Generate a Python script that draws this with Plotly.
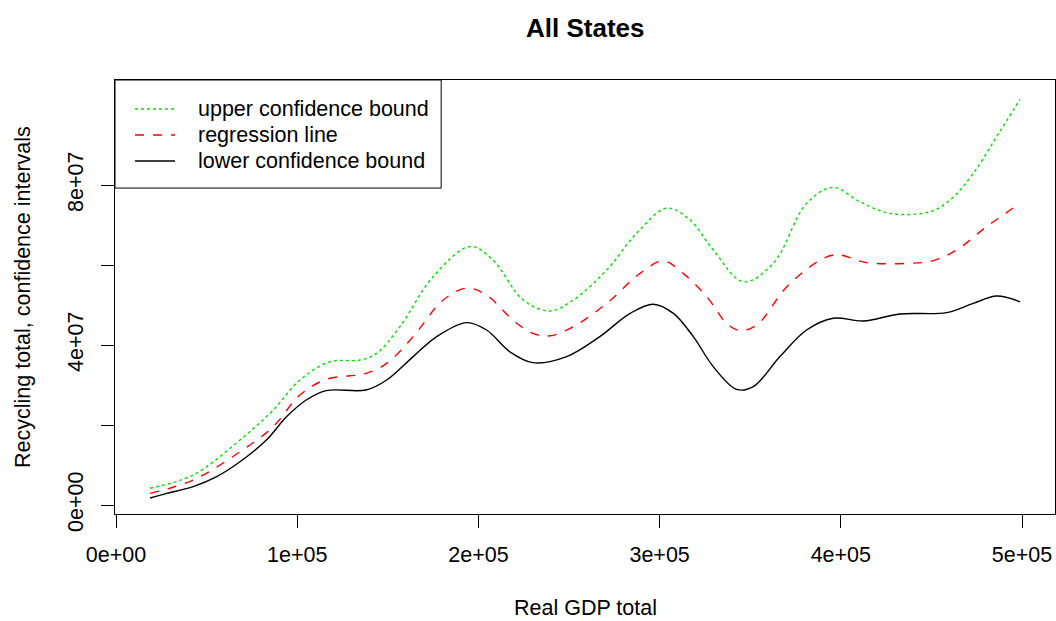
import plotly.graph_objects as go

# values (x in GDP units, y in recycling units)
upper_x = [18800, 42600, 68400, 86800, 101500, 118000, 134700, 143800, 156700, 175000,
           195400, 208000, 224700, 239500, 252400, 270800, 287300, 303900, 316800, 329600,
           346200, 362700, 381100, 395800, 410600, 427200, 449200, 460300, 473100, 486000, 498900]
upper_y = [4.2e6, 7.5e6, 16.25e6, 23.75e6, 31.25e6, 35.8e6, 36.25e6, 37.9e6, 44.6e6, 57.1e6,
           64.6e6, 61.25e6, 51.25e6, 48.5e6, 51.25e6, 58.75e6, 67.9e6, 74.2e6, 71.25e6, 63.75e6,
           55.8e6, 60.4e6, 75.4e6, 79.4e6, 75.8e6, 72.9e6, 73.3e6, 76.25e6, 82.9e6, 92.1e6, 101.4e6]

reg_x = [18800, 42600, 68400, 86800, 101500, 116000, 138000, 149400, 164000, 180600,
         193500, 204500, 219000, 230000, 239500, 252400, 270800, 289200, 302000, 313000,
         326000, 337000, 344400, 353600, 372000, 395800, 414200, 436300, 451000, 463900,
         480500, 498900]
reg_y = [2.9e6, 6.25e6, 13.3e6, 19.6e6, 27.5e6, 31.4e6, 32.9e6, 35.4e6, 42.1e6, 51.25e6,
         54.2e6, 52.5e6, 46.25e6, 42.9e6, 42.3e6, 44.6e6, 50.4e6, 57.9e6, 61e6, 57.9e6,
         52.1e6, 45.4e6, 43.6e6, 45e6, 55.4e6, 62.5e6, 60.6e6, 60.4e6, 61.1e6, 63.75e6,
         69.6e6, 75.4e6]

lower_x = [18800, 28000, 42600, 55600, 68400, 83000, 94200, 105000, 116000, 138000,
           149400, 164000, 177000, 193500, 204500, 217400, 230000, 248700, 267000, 283700,
           296500, 307600, 318600, 329600, 342500, 351700, 366400, 381100, 395800, 412400,
           432700, 458400, 473100, 486000, 498900]
lower_y = [1.75e6, 2.9e6, 4.6e6, 7.1e6, 10.8e6, 16.25e6, 22.1e6, 26.25e6, 28.6e6, 28.75e6,
           31.25e6, 37.1e6, 42.1e6, 45.6e6, 43.75e6, 38.3e6, 35.6e6, 37.1e6, 42.1e6, 47.9e6,
           50.2e6, 47.9e6, 42.1e6, 34.6e6, 28.9e6, 29.6e6, 37.1e6, 43.75e6, 46.7e6, 46e6,
           47.75e6, 48.1e6, 50.4e6, 52.25e6, 50.8e6]

x_ticks = [0, 100000, 200000, 300000, 400000, 500000]
x_labels = ['0e+00', '1e+05', '2e+05', '3e+05', '4e+05', '5e+05']
y_ticks = [0, 2e7, 4e7, 6e7, 8e7]
y_labels = ['0e+00', '', '4e+07', '', '8e+07']

series_names = ['upper confidence bound', 'regression line', 'lower confidence bound']
series_colors = ['#00e000', 'red', 'black']
series_dash = ['dot', 'dash', 'solid']

font = 'Liberation Sans, Arial, sans-serif'

fig = go.Figure()
for (xs, ys), name, col, dash in zip([(upper_x, upper_y), (reg_x, reg_y), (lower_x, lower_y)],
                                      series_names, series_colors, series_dash):
    fig.add_trace(go.Scatter(x=xs, y=ys, mode='lines', name=name, showlegend=False,
                             line=dict(color=col, dash=dash, width=1.4, shape='spline')))

# R-style legend box drawn by hand in the top-left corner
shapes = [dict(type='rect', xref='paper', yref='paper', x0=0, x1=0.347, y0=0.751, y1=1,
               line=dict(color='black', width=1), fillcolor='rgba(0,0,0,0)')]
annotations = []
rows = [0.9332, 0.8733, 0.8134]
for row, name, col, dash in zip(rows, series_names, series_colors, series_dash):
    shapes.append(dict(type='line', xref='paper', yref='paper', x0=0.0213, x1=0.0638,
                       y0=row, y1=row, line=dict(color=col, dash=dash, width=1.4)))
    annotations.append(dict(text=name, xref='paper', yref='paper', x=0.0862, y=row,
                            xanchor='left', yanchor='middle', showarrow=False,
                            font=dict(size=21.5)))

annotations += [
    dict(text='<b>All States</b>', xref='paper', yref='paper', x=0.5, y=1,
         yshift=52, xanchor='center', yanchor='middle', showarrow=False, font=dict(size=26)),
    dict(text='Real GDP total', xref='paper', yref='paper', x=0.5, y=0,
         yshift=-94, xanchor='center', yanchor='middle', showarrow=False, font=dict(size=21.5)),
    dict(text='Recycling total, confidence intervals', xref='paper', yref='paper',
         x=0, y=0.5, xshift=-92, xanchor='center', yanchor='middle', textangle=-90,
         showarrow=False, font=dict(size=21.5)),
]

fig.update_layout(
    width=1056, height=621,
    margin=dict(l=115, r=1, t=80, b=107),
    paper_bgcolor='white', plot_bgcolor='white',
    font=dict(family=font, size=21.5, color='black'),
    xaxis=dict(range=[-552, 518200], tickvals=x_ticks, ticktext=x_labels,
               ticks='outside', ticklen=13, tickcolor='black', tickwidth=1,
               showline=True, linecolor='black', linewidth=1, mirror=True,
               showgrid=False, zeroline=False, ticklabelstandoff=8),
    yaxis=dict(range=[-2.25e6, 106.25e6], tickvals=y_ticks, ticktext=y_labels,
               tickangle=-90, ticks='outside', ticklen=13, tickcolor='black', tickwidth=1,
               showline=True, linecolor='black', linewidth=1, mirror=True,
               showgrid=False, zeroline=False, ticklabelstandoff=9),
    shapes=shapes,
    annotations=annotations,
)

fig.write_html("out.html", config={'displayModeBar': False},
               post_script="document.body.style.margin='0';")
